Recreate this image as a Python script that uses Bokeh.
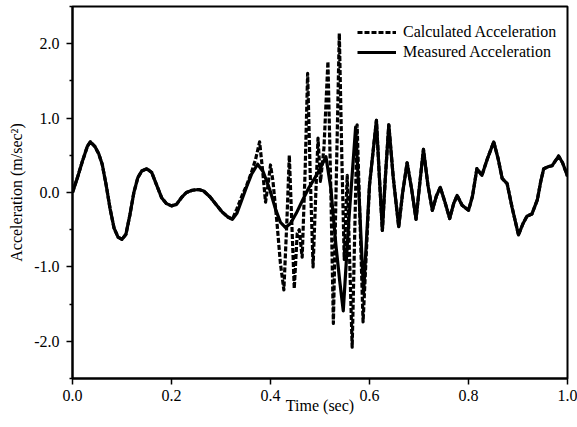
from bokeh.plotting import figure
from bokeh.models import FixedTicker, NumeralTickFormatter, Range1d
from bokeh.embed import file_html
from bokeh.resources import INLINE

# ---- data ----
t_measured = [0.000, 0.010, 0.020, 0.030, 0.036, 0.045, 0.053, 0.060, 0.068, 0.076,
              0.084, 0.092, 0.100, 0.108, 0.116, 0.124, 0.132, 0.140, 0.150, 0.160,
              0.170, 0.180, 0.190, 0.200, 0.210, 0.220, 0.230, 0.242, 0.255, 0.265,
              0.278, 0.290, 0.302, 0.314, 0.323, 0.332, 0.342, 0.352, 0.362, 0.374,
              0.385, 0.398, 0.410, 0.420, 0.430, 0.440, 0.452, 0.465, 0.478, 0.490,
              0.500, 0.512, 0.522, 0.532, 0.540, 0.547, 0.558, 0.572, 0.580, 0.588,
              0.600, 0.614, 0.620, 0.626, 0.632, 0.639, 0.648, 0.659, 0.667, 0.676,
              0.685, 0.694, 0.702, 0.709, 0.718, 0.727, 0.735, 0.743, 0.752, 0.762,
              0.770, 0.777, 0.787, 0.800, 0.808, 0.817, 0.827, 0.838, 0.851, 0.860,
              0.868, 0.878, 0.888, 0.901, 0.910, 0.918, 0.928, 0.939, 0.946, 0.952,
              0.962, 0.969, 0.982, 0.990, 1.000]
a_measured = [0.00, 0.20, 0.42, 0.62, 0.68, 0.62, 0.52, 0.38, 0.10, -0.22,
              -0.48, -0.60, -0.63, -0.56, -0.30, 0.00, 0.20, 0.29, 0.32, 0.27,
              0.10, -0.07, -0.15, -0.18, -0.16, -0.07, 0.00, 0.03, 0.04, 0.02,
              -0.06, -0.16, -0.26, -0.33, -0.36, -0.28, -0.10, 0.08, 0.25, 0.38,
              0.28, 0.05, -0.22, -0.40, -0.47, -0.42, -0.28, -0.10, 0.07, 0.20,
              0.32, 0.48, 0.05, -0.70, -1.20, -1.59, -0.40, 0.88, -0.20, -1.35,
              0.10, 0.97, 0.20, -0.51, 0.20, 0.91, 0.20, -0.46, 0.00, 0.40,
              0.05, -0.36, 0.15, 0.58, 0.10, -0.24, -0.05, 0.07, -0.12, -0.35,
              -0.15, -0.04, -0.17, -0.24, -0.05, 0.32, 0.23, 0.45, 0.68, 0.45,
              0.19, 0.12, -0.20, -0.57, -0.42, -0.32, -0.29, -0.10, 0.15, 0.32,
              0.35, 0.36, 0.49, 0.40, 0.22]

t_calculated = [0.000, 0.010, 0.020, 0.030, 0.036, 0.045, 0.053, 0.060, 0.068, 0.076,
                0.084, 0.092, 0.100, 0.108, 0.116, 0.124, 0.132, 0.140, 0.150, 0.160,
                0.170, 0.180, 0.190, 0.200, 0.210, 0.220, 0.230, 0.242, 0.255, 0.265,
                0.278, 0.290, 0.302, 0.314, 0.323, 0.332, 0.342, 0.352, 0.362, 0.370,
                0.378, 0.384, 0.390, 0.395, 0.400, 0.405, 0.413, 0.420, 0.427, 0.433,
                0.438, 0.443, 0.448, 0.454, 0.458, 0.464, 0.470, 0.475, 0.480, 0.486,
                0.491, 0.496, 0.501, 0.508, 0.516, 0.522, 0.527, 0.533, 0.539, 0.544,
                0.549, 0.555, 0.565, 0.575, 0.587, 0.600, 0.614, 0.620, 0.626, 0.632,
                0.639, 0.648, 0.659, 0.667, 0.676, 0.685, 0.694, 0.702, 0.709, 0.718,
                0.727, 0.735, 0.743, 0.752, 0.762, 0.770, 0.777, 0.787, 0.800, 0.808,
                0.817, 0.827, 0.838, 0.851, 0.860, 0.868, 0.878, 0.888, 0.901, 0.910,
                0.918, 0.928, 0.939, 0.946, 0.952, 0.962, 0.969, 0.982, 0.990, 1.000]
a_calculated = [0.00, 0.20, 0.42, 0.62, 0.68, 0.62, 0.52, 0.38, 0.10, -0.22,
                -0.48, -0.60, -0.63, -0.56, -0.30, 0.00, 0.20, 0.29, 0.32, 0.27,
                0.10, -0.07, -0.15, -0.18, -0.16, -0.07, 0.00, 0.03, 0.04, 0.02,
                -0.06, -0.16, -0.26, -0.33, -0.36, -0.22, -0.05, 0.10, 0.28, 0.45,
                0.68, 0.30, -0.13, 0.10, 0.37, 0.15, -0.40, -0.95, -1.31, -0.40,
                0.50, -0.40, -1.29, -0.55, -0.50, -0.87, 0.30, 1.60, 0.30, -1.00,
                -0.10, 0.73, 0.15, 0.60, 1.76, 0.00, -1.76, 0.20, 2.14, 0.50,
                -0.90, 0.23, -2.08, 0.91, -1.74, 0.10, 0.97, 0.20, -0.51, 0.20,
                0.91, 0.20, -0.46, 0.00, 0.40, 0.05, -0.36, 0.15, 0.58, 0.10,
                -0.24, -0.05, 0.07, -0.12, -0.35, -0.15, -0.04, -0.17, -0.24, -0.05,
                0.32, 0.23, 0.45, 0.68, 0.45, 0.19, 0.12, -0.20, -0.57, -0.42,
                -0.32, -0.29, -0.10, 0.15, 0.32, 0.35, 0.36, 0.49, 0.40, 0.22]

x_ticks = [0.0, 0.2, 0.4, 0.6, 0.8, 1.0]
y_ticks = [-2.0, -1.0, 0.0, 1.0, 2.0]
y_minor_ticks = [-2.5, -1.5, -0.5, 0.5, 1.5, 2.5]

FONT = "Liberation Serif"
FS = "16px"

p = figure(width=577, height=427, output_backend="svg", toolbar_location=None,
           x_range=Range1d(0, 1), y_range=Range1d(-2.5, 2.5),
           min_border_left=72, min_border_right=10, min_border_top=6,
           min_border_bottom=49)
p.background_fill_color = "white"
p.border_fill_color = "white"
p.outline_line_color = "black"
p.outline_line_width = 2
p.grid.visible = False

p.line(t_calculated, a_calculated, line_color="black", line_width=3.2,
       line_dash="5 2", line_join="round", legend_label="Calculated Acceleration")
p.line(t_measured, a_measured, line_color="black", line_width=3.2,
       line_join="round", legend_label="Measured Acceleration")

for ax in (p.xaxis[0], p.yaxis[0]):
    ax.axis_line_width = 2
    ax.axis_line_color = "black"
    ax.major_tick_line_color = "black"
    ax.major_tick_line_width = 1.5
    ax.minor_tick_line_color = "black"
    ax.minor_tick_line_width = 1.5
    ax.major_tick_in = 0
    ax.major_tick_out = 6
    ax.minor_tick_in = 0
    ax.minor_tick_out = 3
    ax.major_label_text_font = FONT
    ax.major_label_text_font_size = FS
    ax.major_label_text_color = "black"
    ax.axis_label_text_font = FONT
    ax.axis_label_text_font_size = FS
    ax.axis_label_text_font_style = "normal"
    ax.axis_label_text_color = "black"
    ax.formatter = NumeralTickFormatter(format="0.0")

p.xaxis.ticker = FixedTicker(ticks=x_ticks, minor_ticks=[])
p.yaxis.ticker = FixedTicker(ticks=y_ticks, minor_ticks=y_minor_ticks)
p.xaxis.axis_label = "Time (sec)"
p.yaxis.axis_label = "Acceleration (m/sec\u00b2)"
p.xaxis.major_label_standoff = 5
p.xaxis.axis_label_standoff = -7
p.yaxis.major_label_standoff = 7
p.yaxis.axis_label_standoff = 6

lg = p.legend[0]
lg.location = (285, 316)
lg.padding = 0
lg.margin = 0
lg.spacing = 0
lg.border_line_color = None
lg.background_fill_alpha = 0
lg.glyph_width = 39
lg.glyph_height = 20
lg.label_height = 20
lg.label_standoff = 7
lg.label_text_font = FONT
lg.label_text_font_size = FS
lg.label_text_color = "black"

open("out.html", "w").write(file_html(p, INLINE))
